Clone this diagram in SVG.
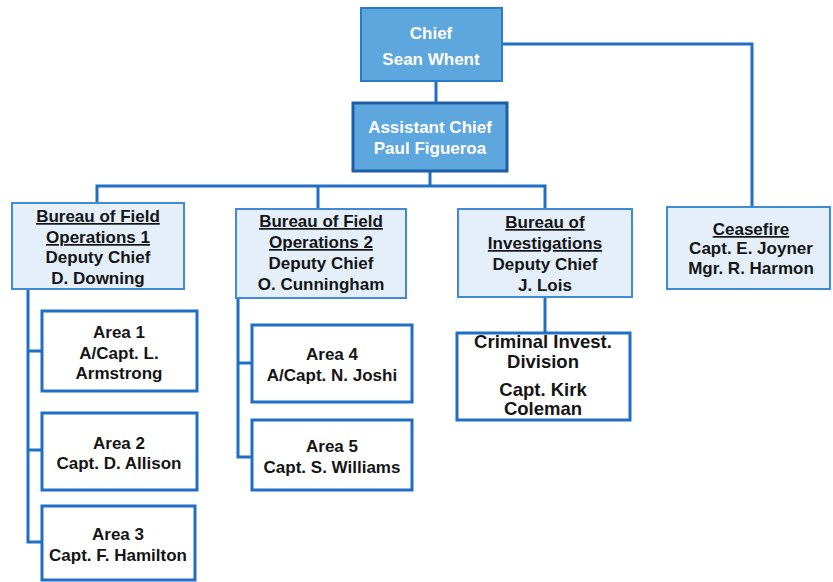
<svg xmlns="http://www.w3.org/2000/svg" width="833" height="582" viewBox="0 0 833 582">
<style>
.top{fill:#5ea6de;stroke:#2b7bcb;stroke-width:2}
.top2{fill:#5ea6de;stroke:#1c5fa6;stroke-width:3}
.bur{fill:#e4effa;stroke:#3f8ad2;stroke-width:2}
.area{fill:#ffffff;stroke:#1f6fc4;stroke-width:3}
.wt{font-family:"Liberation Sans",Arial,sans-serif;font-weight:bold;font-size:17px;fill:#ffffff;text-anchor:middle}
.bt{font-family:"Liberation Sans",Arial,sans-serif;font-weight:bold;font-size:17px;fill:#151515;text-anchor:middle}
.u{text-decoration:underline}
.conn{fill:none;stroke:#1f6fc4;stroke-width:3}
</style>
<rect width="833" height="582" fill="#ffffff"/>
<g id="connectors" class="conn">
<path d="M436,81 V103"/>
<path d="M502,44 H752 V207"/>
<path d="M430,171 V186"/>
<path d="M97,203 V186 H545 V209"/>
<path d="M318,186 V209"/>
<path d="M28,289 V542 H42"/>
<path d="M28,351 H42"/>
<path d="M28,450 H42"/>
<path d="M238,298 V457 H252"/>
<path d="M238,363 H252"/>
<path d="M545,297 V333"/>
</g>
<g id="chief">
<rect class="top" x="361" y="8" width="141" height="73"/>
<text class="wt" x="431" y="39">Chief</text>
<text class="wt" x="431" y="65">Sean Whent</text>
</g>
<g id="assistant-chief">
<rect class="top2" x="353" y="103" width="154" height="68"/>
<text class="wt" x="430" y="133">Assistant Chief</text>
<text class="wt" x="430" y="154">Paul Figueroa</text>
</g>
<g id="bfo1">
<rect class="bur" x="12" y="203" width="172" height="86"/>
<text class="bt u" x="98" y="222">Bureau of Field</text>
<text class="bt u" x="98" y="243">Operations 1</text>
<text class="bt" x="98" y="263">Deputy Chief</text>
<text class="bt" x="98" y="284">D. Downing</text>
</g>
<g id="bfo2">
<rect class="bur" x="236" y="209" width="170" height="89"/>
<text class="bt u" x="321" y="227">Bureau of Field</text>
<text class="bt u" x="321" y="248">Operations 2</text>
<text class="bt" x="321" y="269">Deputy Chief</text>
<text class="bt" x="321" y="290">O. Cunningham</text>
</g>
<g id="boi">
<rect class="bur" x="458" y="209" width="174" height="88"/>
<text class="bt u" x="545" y="228">Bureau of</text>
<text class="bt u" x="545" y="249">Investigations</text>
<text class="bt" x="545" y="270">Deputy Chief</text>
<text class="bt" x="545" y="291">J. Lois</text>
</g>
<g id="ceasefire">
<rect class="bur" x="667" y="207" width="163" height="82"/>
<text class="bt u" x="751" y="235">Ceasefire</text>
<text class="bt" x="751" y="254">Capt. E. Joyner</text>
<text class="bt" x="751" y="274">Mgr. R. Harmon</text>
</g>
<g id="area1">
<rect class="area" x="42" y="311" width="155" height="80"/>
<text class="bt" x="119" y="338">Area 1</text>
<text class="bt" x="119" y="359">A/Capt. L.</text>
<text class="bt" x="119" y="379">Armstrong</text>
</g>
<g id="area2">
<rect class="area" x="42" y="413" width="155" height="77"/>
<text class="bt" x="119" y="449">Area 2</text>
<text class="bt" x="119" y="469">Capt. D. Allison</text>
</g>
<g id="area3">
<rect class="area" x="42" y="506" width="153" height="74"/>
<text class="bt" x="118" y="540">Area 3</text>
<text class="bt" x="118" y="561">Capt. F. Hamilton</text>
</g>
<g id="area4">
<rect class="area" x="252" y="325" width="160" height="77"/>
<text class="bt" x="332" y="360">Area 4</text>
<text class="bt" x="332" y="381">A/Capt. N. Joshi</text>
</g>
<g id="area5">
<rect class="area" x="252" y="420" width="160" height="70"/>
<text class="bt" x="332" y="452">Area 5</text>
<text class="bt" x="332" y="473">Capt. S. Williams</text>
</g>
<g id="cid">
<rect class="area" x="457" y="333" width="173" height="87"/>
<text class="bt" x="543" y="348" style="font-size:18.5px">Criminal Invest.</text>
<text class="bt" x="543" y="368" style="font-size:18.5px">Division</text>
<text class="bt" x="543" y="396" style="font-size:18.5px">Capt. Kirk</text>
<text class="bt" x="543" y="415" style="font-size:18.5px">Coleman</text>
</g>
</svg>
